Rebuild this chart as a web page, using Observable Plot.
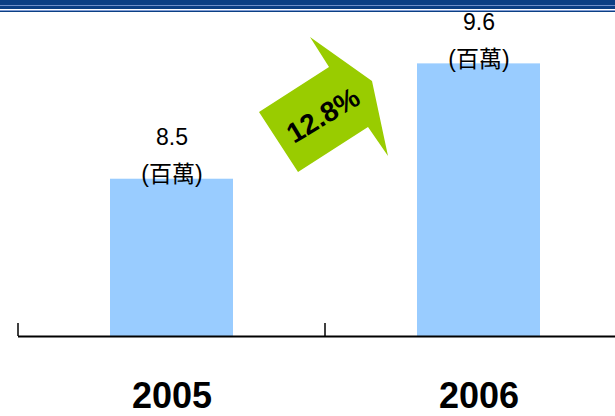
<!DOCTYPE html>
<html>
<head>
<meta charset="utf-8">
<script src="https://cdn.jsdelivr.net/npm/d3@7"></script>
<script src="https://cdn.jsdelivr.net/npm/@observablehq/plot@0.6"></script>
<style>
  html, body { margin: 0; padding: 0; background: #fff; }
  #chart svg { display: block; }
</style>
</head>
<body>
<div id="chart"></div>
<script>
const years = ["2005", "2006"];
const values = [8.5, 9.6];
const unitLabel = "(百萬)";
const growthLabel = "12.8%";

const data = years.map((year, i) => ({year, value: values[i]}));

// decorative header band (double rule across the top)
const headerBand = (index, scales, values, dims) => {
  const g = d3.create("svg:g");
  const stripes = [
    [0, 5, "#0b3f84"], [5, 1, "#6f8fc8"], [6, 3, "#0b3f84"],
    [9, 1, "#ffffff"], [10, 1, "#7f9bd2"], [11, 1, "#0b3f84"]
  ];
  for (const [y, h, c] of stripes) {
    g.append("rect").attr("x", 0).attr("y", y)
      .attr("width", dims.width).attr("height", h).attr("fill", c);
  }
  return g.node();
};

// ticks at the band boundaries of the x scale
const boundaryTicks = (index, scales) => {
  const g = d3.create("svg:g");
  const y0 = scales.y(7);
  for (const yr of years) {
    const x = scales.x(yr);
    g.append("line")
      .attr("x1", x).attr("x2", x)
      .attr("y1", y0).attr("y2", y0 - 13)
      .attr("stroke", "#000").attr("stroke-width", 1.5);
  }
  return g.node();
};

const growthArrow = (index, scales) => {
  const cx = scales.x(years[1]);
  const cy = scales.y((values[0] + values[1]) / 2);
  const shape = [[-66,-9],[4,-54],[-15,-84],[47,-40],[63,35],[43,6],[-27,51]];
  const g = d3.create("svg:g").attr("transform", `translate(${cx},${cy})`);
  g.append("polygon")
    .attr("points", shape.map(p => p.join(",")).join(" "))
    .attr("fill", "#99cc00");
  g.append("text")
    .attr("transform", "translate(-2,-6) rotate(-31)")
    .attr("text-anchor", "middle")
    .attr("dy", "0.35em")
    .attr("font-family", "'Liberation Sans', Arial, sans-serif")
    .attr("font-weight", "bold")
    .attr("font-size", 28)
    .attr("fill", "#000")
    .text(growthLabel);
  return g.node();
};

const chart = Plot.plot({
  width: 615,
  height: 416,
  marginTop: 12,
  marginLeft: 18,
  marginRight: 0,
  marginBottom: 80,
  style: {fontFamily: "'Liberation Sans', 'Noto Sans CJK TC', sans-serif", background: "#fff"},
  x: {type: "band", domain: years, range: [18, 632], padding: 0, axis: null},
  y: {domain: [7, 10.09], axis: null},
  marks: [
    Plot.barY(data, {x: "year", y1: 7, y2: "value", fill: "#99ccff", insetLeft: 92, insetRight: 92}),
    Plot.ruleY([7], {stroke: "#000", strokeWidth: 2}),
    boundaryTicks,
    Plot.text(data, {
      x: "year", y: "value",
      text: d => `${d.value}\n${unitLabel}`,
      lineAnchor: "bottom", lineHeight: 1.6, dy: 3,
      fontSize: 23, fill: "#000",
      fontFamily: "'Liberation Sans', 'Noto Sans CJK TC', sans-serif"
    }),
    growthArrow,
    Plot.axisX({
      tickSize: 0, tickPadding: 46, fontSize: 36, fontWeight: "bold",
      fill: "#000", label: null
    }),
    headerBand
  ]
});
document.getElementById("chart").appendChild(chart);
</script>
</body>
</html>
